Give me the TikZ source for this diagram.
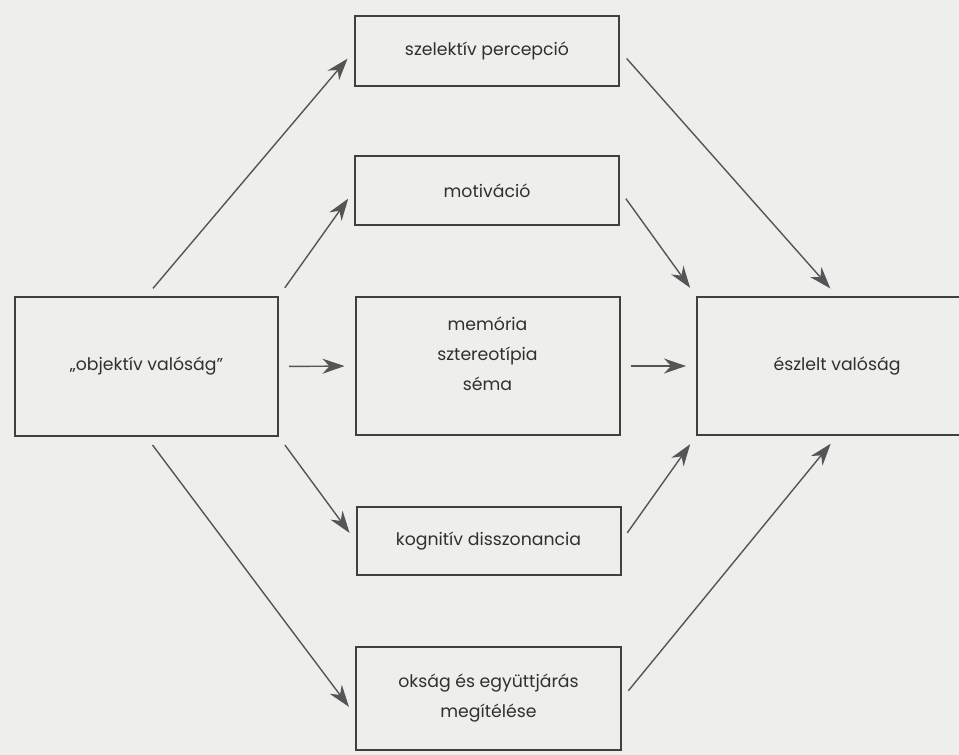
\documentclass[tikz,border=0pt]{standalone}
\usepackage{fontspec}
\setmainfont{Poppins}
\usepackage{tikz}
\usetikzlibrary{arrows.meta}
\definecolor{paper}{HTML}{EEEEED}
\definecolor{ink}{HTML}{303030}
\definecolor{frame}{HTML}{404040}
\definecolor{arrowgray}{HTML}{555555}

\begin{document}
\begin{tikzpicture}[x=1pt,y=-1pt,
    box/.style={draw=frame,line width=2pt,text=ink,inner sep=0pt,align=center,
      font=\fontsize{17.3}{30}\selectfont},
    arr/.style={draw=arrowgray,line width=1.4pt,
      -{Stealth[length=22pt,width=15pt,inset=7pt]},shorten <=10pt,shorten >=10pt}]
        \fill[paper] (0,0) rectangle (959,755);
        \useasboundingbox (0,0) rectangle (959,755);
        \clip (0,0) rectangle (959,755);
        % left and right boxes
        \node[box,minimum width=263pt,minimum height=139pt] (obj) at (146.5,366.5) {„objektív valóság”};
        \node[box,minimum width=280pt,minimum height=138pt] (esz) at (837,366) {észlelt valóság};
        % middle column
        \node[box,minimum width=264pt,minimum height=70pt] (szel) at (487,51) {szelektív percepció};
        \node[box,minimum width=264pt,minimum height=69pt] (mot) at (487,190.5) {motiváció};
        \node[box,minimum width=264pt,minimum height=138pt] (mem) at (487.5,366) {\raisebox{12pt}[\height][\depth]{\parbox{200pt}{\centering memória\\ sztereotípia\\ séma}}};
        \node[box,minimum width=264pt,minimum height=68pt] (kog) at (488.5,541) {kognitív disszonancia};
        \node[box,minimum width=265pt,minimum height=103pt] (oks) at (488.5,698.5) {okság és együttjárás\\ megítélése};
        % arrows in
        \draw[arr] (obj.north) -- (szel.west);
        \draw[arr] (obj.north east) -- (mot.west);
        \draw[arr] (obj.east) -- (mem.west);
        \draw[arr] (obj.south east) -- (kog.west);
        \draw[arr] (obj.south) -- (oks.187);
        % arrows out
        \draw[arr] (szel.east) -- (esz.north);
        \draw[arr] (mot.east) -- (esz.north west);
        \draw[arr] (mem.east) -- (esz.west);
        \draw[arr] (kog.east) -- (esz.south west);
        \draw[arr] (oks.east) -- (esz.south);
\end{tikzpicture}
\end{document}
